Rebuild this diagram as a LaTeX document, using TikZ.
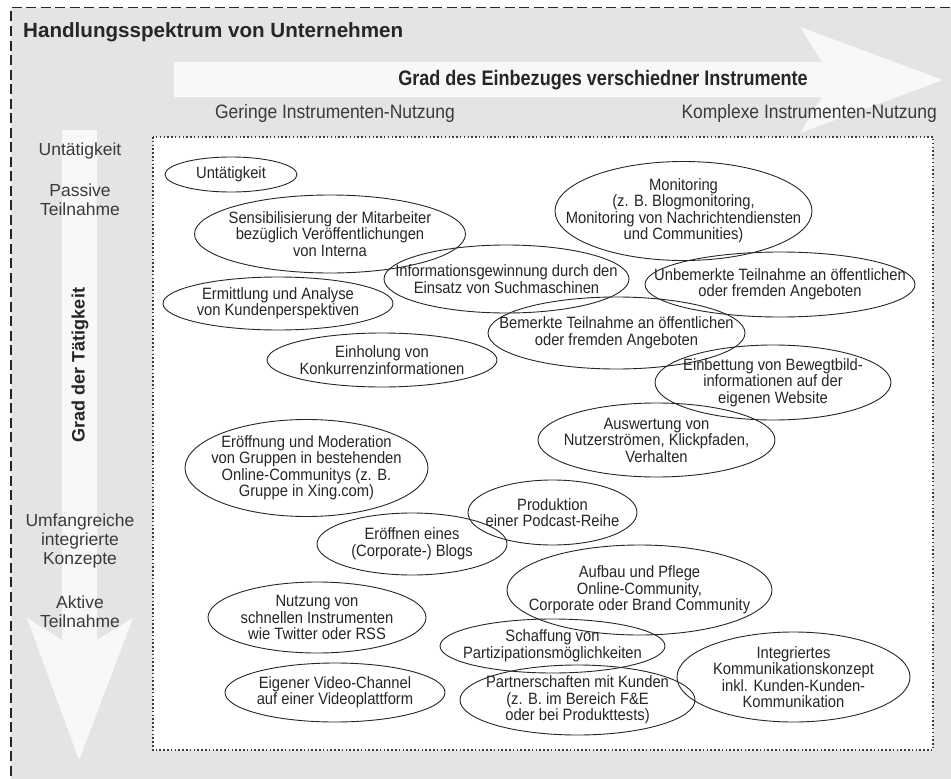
\documentclass[tikz,border=0pt]{standalone}
\usepackage{fontspec}
\setmainfont{Liberation Sans}
\newfontfamily\subbf{Liberation Sans}[FakeStretch=0.86]
\newfontfamily\condreg{Liberation Sans}[FakeStretch=0.9]
\definecolor{bg}{HTML}{E4E4E4}
\definecolor{arr}{HTML}{F8F8F8}
\definecolor{ink}{HTML}{262626}
\definecolor{lab}{HTML}{3A3A3A}
\newcommand{\ebub}[6]{%
  \node[txt] (#1) at (#2,#3) {#6};
  \draw[ell] (#1.center) ellipse [x radius=#4pt/2, y radius=#5pt/2];}
\begin{document}
\begin{tikzpicture}[x=1pt,y=-1pt,
  txt/.style={align=center, inner sep=0pt, text=ink,
    font=\condreg\fontsize{16.4}{16.5}\selectfont},
  ell/.style={draw=ink, line width=0.9pt},
  side/.style={align=center, inner sep=0pt, text=lab,
    font=\fontsize{17.5}{19}\selectfont},
  toplab/.style={inner sep=0pt, text=lab, font=\condreg\fontsize{19.4}{21}\selectfont},
  outerborder/.style={draw=ink, line width=1.2pt, dash pattern=on 10pt off 4.5pt},
  innerbox/.style={draw=ink!90, fill=white, line width=1.5pt, dash pattern=on 1.5pt off 2.3pt}]
\useasboundingbox (0,0) rectangle (951,779);
\clip (0,0) rectangle (951,779);
\fill[white] (0,0) rectangle (951,779);
\fill[bg] (11,7.5) rectangle (965,790);
\draw[outerborder] (11,790) -- (11,7.5) -- (965,7.5);
% horizontal arrow
\fill[arr] (174,62) -- (822,62) -- (800,27) -- (943,80) -- (800,133) -- (822,97) -- (174,97) -- cycle;
% vertical arrow
\fill[arr] (62,130) -- (97,130) -- (97,640) -- (133,618) -- (79,760) -- (27,618) -- (62,640) -- cycle;
% inner dotted box
\draw[innerbox] (153,137) rectangle (933,750);
% titles
\node[anchor=base west, inner sep=0pt, text=ink, font=\fontsize{20.6}{22}\selectfont\bfseries] (title) at (23,37) {Handlungsspektrum von Unternehmen};
\node[anchor=base, inner sep=0pt, text=ink, font=\subbf\fontsize{21}{22}\selectfont\bfseries] (xaxis) at (603,85) {Grad des Einbezuges verschiedner Instrumente};
\node[toplab, anchor=base] (low) at (335,118) {Geringe Instrumenten-Nutzung};
\node[toplab, anchor=base east] (high) at (937,118) {Komplexe Instrumenten-Nutzung};
\node[rotate=90, inner sep=0pt, text=ink, font=\fontsize{18}{20}\selectfont\bfseries] (yaxis) at (80,365) {Grad der Tätigkeit};
% side labels
\node[side] (s1) at (80,151) {Untätigkeit};
\node[side] (s2) at (80,200) {Passive\\Teilnahme};
\node[side] (s3) at (80,541) {Umfangreiche\\integrierte\\Konzepte};
\node[side] (s4) at (80,612) {Aktive\\Teilnahme};
% bubbles
\ebub{e1}{231}{174.5}{132}{35}{Untätigkeit}
\ebub{e2}{330}{234}{271}{78}{Sensibilisierung der Mitarbeiter\\bezüglich Veröffentlichungen\\von Interna}
\ebub{e3}{278}{303.5}{230}{53}{Ermittlung und Analyse\\von Kundenperspektiven}
\ebub{e4}{382}{360}{230}{54}{Einholung von\\Konkurrenzinformationen}
\ebub{e5}{506.5}{279}{245}{68}{Informationsgewinnung durch den\\Einsatz von Suchmaschinen}
\ebub{e6}{683.5}{211}{257}{99}{Monitoring\\(z. B. Blogmonitoring,\\Monitoring von Nachrichtendiensten\\und Communities)}
\ebub{e7}{780}{284.5}{270}{65}{Unbemerkte Teilnahme an öffentlichen\\oder fremden Angeboten}
\ebub{e8}{616.5}{333}{257}{72}{Bemerkte Teilnahme an öffentlichen\\oder fremden Angeboten}
\ebub{e9}{773}{382.5}{236}{75}{Einbettung von Bewegtbild-\\informationen auf der\\eigenen Website}
\ebub{e10}{656.5}{440}{237}{74}{Auswertung von\\Nutzerströmen, Klickpfaden,\\Verhalten}
\ebub{e11}{306.5}{468}{243}{97}{Eröffnung und Moderation\\von Gruppen in bestehenden\\Online-Communitys (z. B.\\Gruppe in Xing.com)}
\ebub{e12}{552.5}{512.5}{169}{65}{Produktion\\einer Podcast-Reihe}
\ebub{e13}{412}{544}{190}{62}{Eröffnen eines\\(Corporate-) Blogs}
\ebub{e14}{639.5}{590}{265}{90}{Aufbau und Pflege\\Online-Community,\\Corporate oder Brand Community}
\ebub{e15}{317}{617.5}{218}{71}{Nutzung von\\schnellen Instrumenten\\wie Twitter oder RSS}
\ebub{e16}{552.5}{646}{225}{54}{Schaffung von\\Partizipationsmöglichkeiten}
\ebub{e17}{793.5}{677}{233}{90}{Integriertes\\Kommunikationskonzept\\inkl. Kunden-Kunden-\\Kommunikation}
\ebub{e18}{335}{692.5}{220}{59}{Eigener Video-Channel\\auf einer Videoplattform}
\ebub{e19}{577.5}{700}{235}{70}{Partnerschaften mit Kunden\\(z. B. im Bereich F\&E\\oder bei Produkttests)}
\end{tikzpicture}
\end{document}
